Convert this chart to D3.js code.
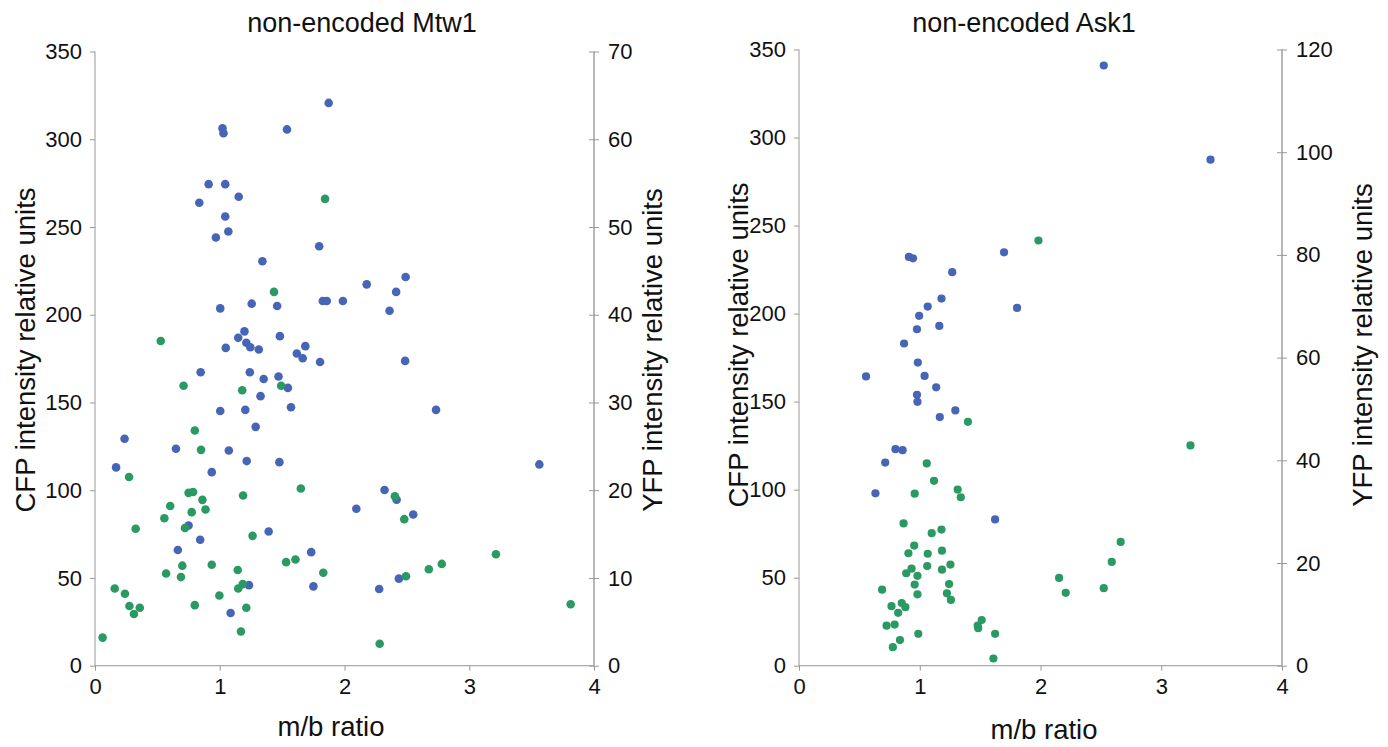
<!DOCTYPE html>
<html>
<head>
<meta charset="utf-8">
<script src="https://cdn.jsdelivr.net/npm/d3@7"></script>
<style>
  html, body { margin: 0; padding: 0; background: #fff; }
  svg { display: block; font-family: "Liberation Sans", Arial, Helvetica, sans-serif; }
</style>
</head>
<body>
<svg id="chart" width="1388" height="747"></svg>
<script>
// ---------- DATA ----------
const panelTitles = ["non-encoded Mtw1", "non-encoded Ask1"];
const xTicks = [0, 1, 2, 3, 4];
const cfpTicks = [0, 50, 100, 150, 200, 250, 300, 350];
const mtw1YfpTicks = [0, 10, 20, 30, 40, 50, 60, 70];
const ask1YfpTicks = [0, 20, 40, 60, 80, 100, 120];

// Mtw1: CFP (blue, left axis)
const mtw1CfpX = [1.873,1.022,1.030,1.539,0.911,1.044,1.152,0.836,1.044,1.069,0.969,1.797,1.342,2.490,2.178,2.414,1.826,1.858,1.987,1.004,1.256,1.460,2.361,1.198,1.482,1.148,1.213,1.245,1.313,1.048,1.686,1.618,1.665,1.804,2.486,0.847,1.241,1.352,1.471,1.546,1.327,1.004,1.205,1.571,1.288,2.734,0.237,0.649,1.073,1.216,1.478,0.169,3.562,0.936,2.321,2.418,2.095,2.551,0.750,1.392,0.843,0.664,1.733,1.234,1.751,2.278,2.436,1.087];
const mtw1CfpY = [320.7,306.2,303.4,305.6,274.4,274.4,267.2,263.8,256.0,247.4,244.0,239.0,230.5,221.5,217.3,213.0,207.8,207.8,207.8,203.6,206.3,205.0,202.3,190.5,187.8,186.9,184.0,181.5,180.2,181.1,182.1,177.9,175.2,173.1,173.7,167.2,167.2,163.4,164.8,158.3,153.6,145.1,145.8,147.3,136.1,145.8,129.3,123.6,122.6,116.6,116.0,113.0,114.7,110.3,100.1,94.6,89.4,86.2,79.9,76.5,71.8,65.9,64.7,45.9,45.2,43.7,49.6,30.0];

// Mtw1: YFP (green, right axis)
const mtw1YfpX = [1.844,1.435,0.527,0.710,1.180,1.492,0.800,0.850,0.273,0.750,0.786,1.650,1.187,0.861,0.603,0.886,0.775,0.556,2.404,2.479,0.326,0.721,1.263,0.936,1.532,1.607,0.700,1.144,1.830,0.570,0.689,2.676,2.780,3.214,2.493,0.158,0.240,0.997,1.148,1.184,0.276,0.359,0.312,0.800,1.213,3.813,1.170,0.061,2.282];
const mtw1YfpY = [53.2,42.6,37.0,31.9,31.4,31.9,26.8,24.6,21.5,19.7,19.8,20.2,19.4,18.9,18.2,17.8,17.5,16.8,19.3,16.7,15.6,15.7,14.8,11.5,11.8,12.1,11.4,10.9,10.6,10.5,10.1,11.0,11.6,12.7,10.2,8.8,8.2,8.0,8.8,9.3,6.8,6.6,5.9,6.9,6.6,7.0,3.9,3.2,2.5];

// Ask1: CFP (blue, left axis)
const ask1CfpX = [2.524,3.408,0.910,0.944,1.698,1.269,1.180,1.066,1.806,0.995,0.977,1.162,0.870,0.984,1.040,0.555,1.136,0.977,0.981,1.295,1.166,0.799,0.858,0.714,0.633,1.624];
const ask1CfpY = [340.9,287.4,232.2,231.4,234.8,223.5,208.5,204.0,203.2,198.7,191.1,193.0,183.0,172.2,164.6,164.3,158.1,153.9,149.9,145.0,141.2,123.0,122.4,115.4,97.9,83.1];

// Ask1: YFP (green, right axis)
const ask1YfpX = [1.983,1.399,3.242,1.058,1.118,1.314,1.340,0.958,0.866,1.180,1.099,2.664,0.954,0.906,1.066,1.184,2.590,0.932,0.888,0.981,1.062,1.184,1.254,2.154,2.524,2.209,0.688,0.958,1.243,0.981,1.225,1.258,0.766,0.851,0.881,0.821,0.725,0.792,1.513,1.480,1.484,0.988,1.624,0.836,0.777,1.610];
const ask1YfpY = [82.8,47.5,42.9,39.4,36.0,34.3,32.8,33.5,27.7,26.5,25.8,24.1,23.4,21.9,21.8,22.4,20.2,18.9,18.0,17.5,19.4,18.7,19.7,17.1,15.1,14.2,14.8,15.8,15.9,13.9,14.1,12.8,11.6,12.2,11.4,10.3,7.8,8.0,8.9,7.8,7.3,6.2,6.2,5.0,3.6,1.4];

// ---------- DRAW ----------
const svg = d3.select("#chart");
const BLUE = "#4665b6";
const GREEN = "#2a9a62";
const FONT = '"Liberation Sans", Arial, sans-serif';

function drawPanel(p) {
  const g = svg.append("g");
  const x = d3.scaleLinear().domain([0, 4]).range([p.x0, p.x1]);
  const yL = d3.scaleLinear().domain([0, 350]).range([p.yb, p.yt]);
  const yR = d3.scaleLinear().domain([0, p.yfpMax]).range([p.yb, p.yt]);

  const axL = g.append("g").attr("transform", `translate(${p.x0},0)`)
    .call(d3.axisLeft(yL).tickValues(cfpTicks).tickFormat(d3.format("d")).tickSize(5).tickPadding(8));
  const axR = g.append("g").attr("transform", `translate(${p.x1},0)`)
    .call(d3.axisRight(yR).tickValues(p.yfpTicks).tickFormat(d3.format("d")).tickSize(5).tickPadding(9));
  axR.selectAll(".tick line").attr("x1", -5);
  const axB = g.append("g").attr("transform", `translate(0,${p.yb})`)
    .call(d3.axisBottom(x).tickValues(xTicks).tickFormat(d3.format("d")).tickSize(5).tickPadding(8));

  [axL, axR, axB].forEach(a => {
    a.select(".domain").attr("stroke", "#aaa").attr("stroke-width", 1.2);
    a.selectAll(".tick line").attr("stroke", "#999").attr("stroke-width", 1);
    a.selectAll(".tick text").attr("fill", "#111").style("font-size", "22px")
      .style("font-family", FONT);
  });
  axR.select(".domain").attr("stroke", "#888");
  axL.select(".domain").attr("d", `M0,${p.yb}V${p.yt}`);
  axR.select(".domain").attr("d", `M0,${p.yb}V${p.yt}`);
  axB.select(".domain").attr("d", `M${p.x0},0H${p.x1}`);

  g.append("g").selectAll("circle").data(p.cfpX)
    .join("circle")
    .attr("cx", (d) => x(d))
    .attr("cy", (d, i) => yL(p.cfpY[i]))
    .attr("r", p.r).attr("fill", BLUE);
  g.append("g").selectAll("circle").data(p.yfpX)
    .join("circle")
    .attr("cx", (d) => x(d))
    .attr("cy", (d, i) => yR(p.yfpY[i]))
    .attr("r", p.r).attr("fill", GREEN);

  g.append("text").attr("x", p.titleX).attr("y", 32)
    .attr("text-anchor", "middle").style("font-size", "27px").attr("fill", "#111")
    .text(p.title);
  g.append("text").attr("x", p.xTitleX).attr("y", p.xTitleY)
    .attr("text-anchor", "middle").style("font-size", "27.5px").attr("fill", "#111")
    .text("m/b ratio");
  g.append("text").attr("transform", `translate(${p.cfpTitleX},${p.yTitleC}) rotate(-90)`)
    .attr("text-anchor", "middle").style("font-size", "27.5px").attr("fill", "#111")
    .text("CFP intensity relative units");
  g.append("text").attr("transform", `translate(${p.yfpTitleX},${p.yTitleC}) rotate(-90)`)
    .attr("text-anchor", "middle").style("font-size", "27.5px").attr("fill", "#111")
    .text("YFP intensity relative units");
}

drawPanel({
  x0: 95, x1: 594, yt: 51.5, yb: 665.7,
  yfpMax: 70, yfpTicks: mtw1YfpTicks,
  cfpX: mtw1CfpX, cfpY: mtw1CfpY, yfpX: mtw1YfpX, yfpY: mtw1YfpY,
  r: 4.3, title: panelTitles[0], titleX: 362, xTitleX: 331, xTitleY: 736,
  cfpTitleX: 35, yfpTitleX: 662, yTitleC: 350
});
drawPanel({
  x0: 799, x1: 1282, yt: 49.5, yb: 665.7,
  yfpMax: 120, yfpTicks: ask1YfpTicks,
  cfpX: ask1CfpX, cfpY: ask1CfpY, yfpX: ask1YfpX, yfpY: ask1YfpY,
  r: 4.1, title: panelTitles[1], titleX: 1024, xTitleX: 1044, xTitleY: 739,
  cfpTitleX: 748, yfpTitleX: 1372, yTitleC: 345
});
</script>
</body>
</html>
